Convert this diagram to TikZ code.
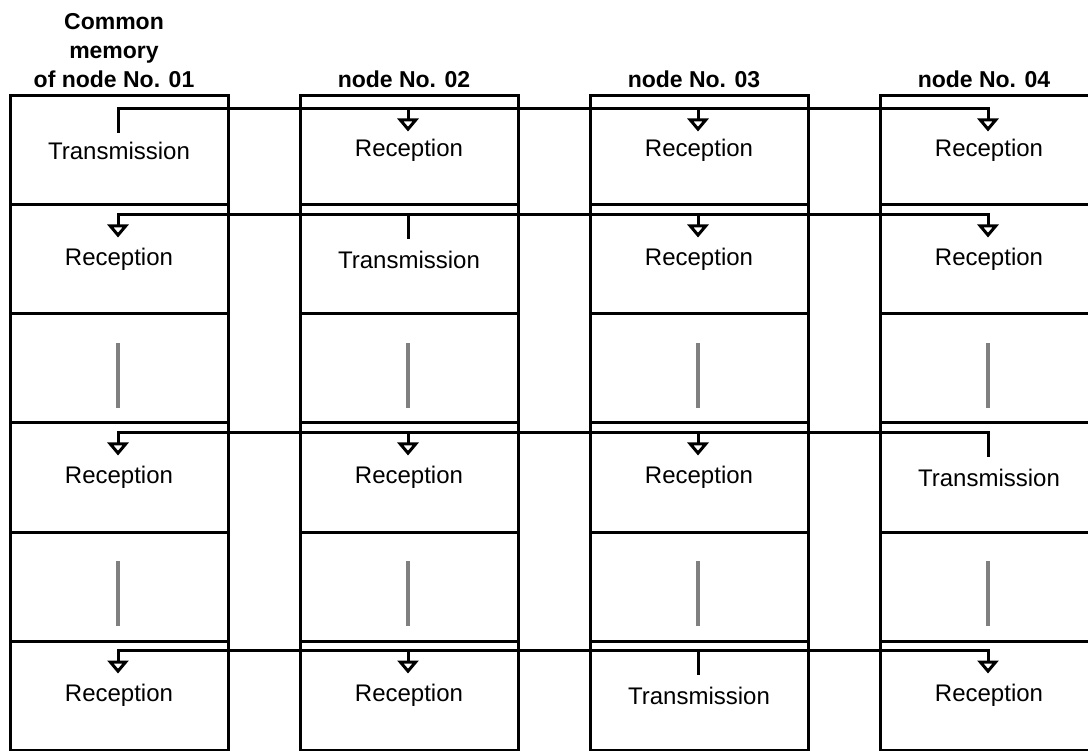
\documentclass[tikz,border=0pt]{standalone}
\usepackage{fontspec}
\setmainfont{Liberation Sans}
\usetikzlibrary{arrows.meta, calc}

\begin{document}
\begin{tikzpicture}[x=1pt, y=-1pt,
  cell/.style={draw, line width=3pt, minimum width=218pt, minimum height=109pt, inner sep=0pt, font=\fontsize{24}{28}\selectfont},
  head/.style={anchor=south, inner sep=0pt, align=center, font=\fontsize{23}{29}\selectfont\bfseries},
  bus/.style={line width=3pt, line cap=rect},
  recv/.style={line width=3pt, -{Triangle[open, length=13pt, width=21pt]}},
  gap/.style={line width=3.5pt, draw=black!50}
]
  \clip (0,0) rectangle (1088,751);

  % columns of common memory, one per node
  \foreach \c/\x/\la/\lb/\ld/\lf in {
      1/119/Transmission/Reception/Reception/Reception,
      2/409/Reception/Transmission/Reception/Reception,
      3/699/Reception/Reception/Reception/Transmission,
      4/989/Reception/Reception/Transmission/Reception} {
    \node[cell] (m\c1) at (\x,150.5) {\la};
    \node[cell] (m\c2) at (\x,259.5) {\lb};
    \node[cell] (m\c3) at (\x,368.5) {};
    \node[cell] (m\c4) at (\x,477.5) {\ld};
    \node[cell] (m\c5) at (\x,586.5) {};
    \node[cell] (m\c6) at (\x,695.5) {\lf};
    % skipped areas
    \draw[gap] ($(m\c3.center)+(-1,-25.5)$) -- ($(m\c3.center)+(-1,39.5)$);
    \draw[gap] ($(m\c5.center)+(-1,-25.5)$) -- ($(m\c5.center)+(-1,39.5)$);
  }

  \node[head] (h1) at ($(m11.north)+(-5,-7)$) {Common\\memory\\of node No. 01};
  \node[head] (h2) at ($(m21.north)+(-5,-7)$) {node No. 02};
  \node[head] (h3) at ($(m31.north)+(-5,-7)$) {node No. 03};
  \node[head] (h4) at ($(m41.north)+(-5,-7)$) {node No. 04};

  % taps on the bus and ends of the stubs
  \foreach \r/\dy in {1/14, 2/11, 4/11, 6/11}
    \foreach \c in {1,...,4} {
      \coordinate (b\c\r) at ($(m\c\r.north)+(-1,\dy)$);
      \coordinate (e\c\r) at ($(b\c\r)+(0,23)$);
    }

  % one transmitter per row, the others receive
  \foreach \r/\t in {1/1, 2/2, 4/4, 6/3} {
    \draw[bus] (b1\r) -- (b4\r);
    \foreach \c in {1,...,4} {
      \ifnum\c=\t
        \draw[bus] (b\c\r) -- (e\c\r);
      \else
        \draw[recv] (b\c\r) -- (e\c\r);
      \fi
    }
  }
\end{tikzpicture}
\end{document}
